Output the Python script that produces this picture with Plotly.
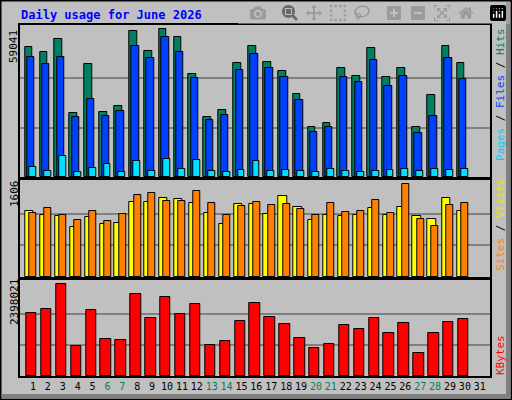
import plotly.graph_objects as go
from plotly.subplots import make_subplots

days = list(range(1, 32))
weekend = [6, 7, 13, 14, 20, 21, 27, 28]

# values for June 2026 (day 31 has no data)
hits = [51860, 49620, 54810, 25290, 44840, 25690, 28080, 58000, 50020, 59041,
        55610, 40850, 23700, 26490, 45240, 52020, 45630, 42040, 32870, 19710,
        21700, 43240, 40050, 51220, 39650, 43240, 19710, 32470, 52020, 45240]
files = [47630, 44840, 47630, 23700, 30880, 24090, 26090, 52020, 47230, 55610,
         49620, 39250, 22500, 24490, 42440, 48830, 43240, 39650, 30480, 18110,
         20100, 39650, 37660, 46430, 36060, 40050, 17710, 24090, 47230, 38850]
pages = [4150, 2550, 8540, 2150, 3750, 5350, 2150, 6540, 2550, 7340,
         3350, 6940, 2550, 2150, 2950, 6540, 2550, 2950, 2550, 2150,
         3350, 2550, 2150, 2550, 2950, 3350, 2550, 3350, 2950, 3350]
sites = [1122, 1054, 1037, 850, 1020, 901, 918, 1258, 1258, 1326,
         1309, 1241, 1088, 901, 1224, 1224, 1071, 1360, 1173, 969,
         1054, 1037, 1054, 1156, 1054, 1173, 1037, 986, 1326, 1122]
visits = [1088, 1156, 1054, 969, 1122, 952, 1071, 1377, 1411, 1275,
          1275, 1445, 1241, 1054, 1190, 1258, 1207, 1224, 1139, 1054,
          1241, 1105, 1122, 1292, 1088, 1564, 986, 867, 1207, 1241]
kbytes = [1624000, 1728000, 2346000, 774000, 1702000, 954000, 928000, 2089000, 1496000, 2011000,
          1599000, 1831000, 799000, 902000, 1418000, 1857000, 1521000, 1341000, 980000, 722000,
          825000, 1315000, 1212000, 1496000, 1109000, 1367000, 593000, 1109000, 1392000, 1470000]

max_hits, max_visits, max_kb = 59041, 1606, 2398021
d = days[:30]

fig = make_subplots(rows=3, cols=1)

def bars(vals, off, w, color, row):
    fig.add_trace(go.Bar(x=[x + off for x in d], y=vals, width=w,
                         marker=dict(color=color, line=dict(color="black", width=1)),
                         showlegend=False, hoverinfo="y"), row=row, col=1)

bars(hits, -0.28, 0.52, "#008060", 1)
bars(files, -0.13, 0.50, "#0040ff", 1)
bars(pages, -0.01, 0.46, "#00e0ff", 1)
bars(sites, -0.23, 0.56, "#ffff00", 2)
bars(visits, 0.01, 0.47, "#ff8000", 2)
bars(kbytes, -0.1, 0.70, "#ff0000", 3)

xdom = [0.0396, 0.958]
doms = [[0.5575, 0.9375], [0.3075, 0.55], [0.06, 0.3]]
tops = [max_hits * 1.025, max_visits * 1.019, max_kb * 1.025]
maxes = [max_hits, max_visits, max_kb]

ticktext = ["<span style='color:%s'>%d</span>" % ("#008060" if x in weekend else "black", x)
            for x in days]

for i in range(3):
    ax = "" if i == 0 else str(i + 1)
    fig.layout["xaxis" + ax].update(domain=xdom, range=[0.148, 31.72], showgrid=False,
                                    zeroline=False, showline=True, mirror=True,
                                    linecolor="black", linewidth=2,
                                    showticklabels=(i == 2), ticks="", tickangle=0,
                                    tickvals=days, ticktext=ticktext,
                                    tickfont=dict(family="DejaVu Sans Mono", size=10))
    fig.layout["yaxis" + ax].update(domain=doms[i], range=[0, tops[i]],
                                    tickvals=[maxes[i] / 3, maxes[i] * 2 / 3],
                                    showticklabels=False, ticks="", showgrid=True,
                                    gridcolor="#808080", gridwidth=1.5, zeroline=False,
                                    showline=True, mirror=True, linecolor="black", linewidth=2)

fig.update_layout(
    width=512, height=400, margin=dict(l=0, r=0, t=0, b=0),
    paper_bgcolor="#c0c0c0", plot_bgcolor="#c0c0c0",
    barmode="overlay", bargap=0,
)

mono = "DejaVu Sans Mono"
fig.add_annotation(x=19 / 512, y=1 - 15 / 400, xref="paper", yref="paper", xanchor="left",
                   yanchor="middle", showarrow=False,
                   text="<b>Daily usage for June 2026</b>",
                   font=dict(family=mono, size=12, color="#0000ff"))

for txt, ymid in [(str(max_hits), 47), (str(max_visits), 194), (str(max_kb), 302)]:
    fig.add_annotation(x=14 / 512, y=1 - ymid / 400, xref="paper", yref="paper",
                       xanchor="center", yanchor="middle", textangle=-90, showarrow=False,
                       text=txt, font=dict(family=mono, size=11, color="black"))

right = [
    ("<span style='color:#00d0f0'>Pages</span> / <span style='color:#0040ff'>Files</span>"
     " / <span style='color:#008060'>Hits</span>", 95),
    ("<span style='color:#ff8000'>Sites</span> / <span style='color:#e8e800'>Visits</span>", 225),
    ("<span style='color:#ff0000'>KBytes</span>", 355),
]
for txt, ymid in right:
    fig.add_annotation(x=500 / 512, y=1 - ymid / 400, xref="paper", yref="paper",
                       xanchor="center", yanchor="middle", textangle=-90, showarrow=False,
                       text=txt, font=dict(family=mono, size=11, color="black"))

# frame and bevel
fig.add_shape(type="rect", xref="paper", yref="paper", x0=0.001, y0=0.001, x1=0.999, y1=0.999,
              line=dict(color="black", width=2))
fig.add_shape(type="rect", xref="paper", yref="paper", x0=1 - 6 / 512, y0=0.003, x1=0.997, y1=0.995,
              line=dict(width=0), fillcolor="#808080")
fig.add_shape(type="rect", xref="paper", yref="paper", x0=0.003, y0=0.003, x1=0.997, y1=6 / 400,
              line=dict(width=0), fillcolor="#808080")

fig.write_html("out.html", post_script="document.body.style.margin='0';")
